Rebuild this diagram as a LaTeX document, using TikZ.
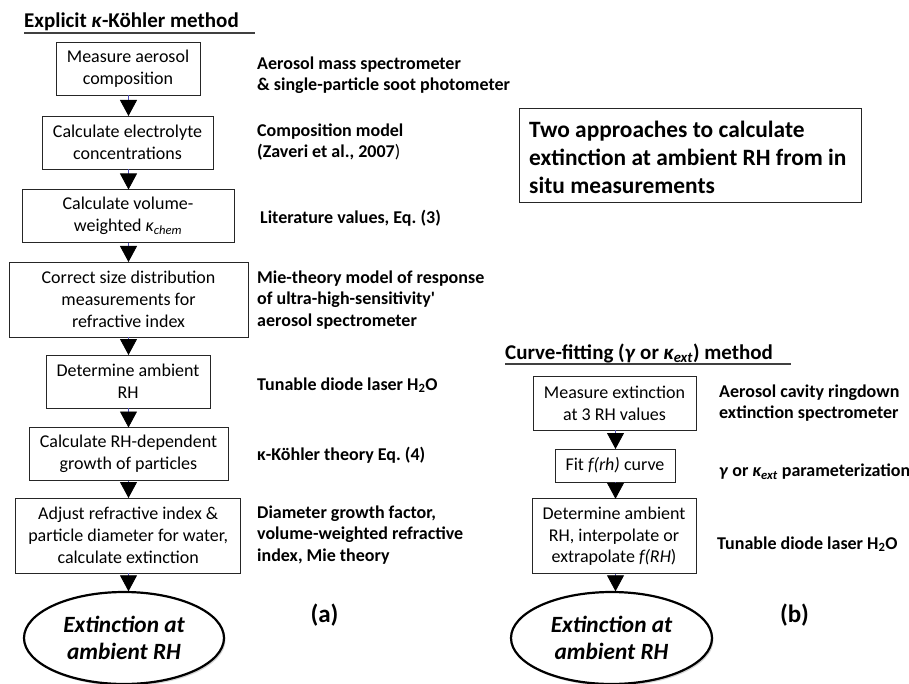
\documentclass[tikz,border=0pt]{standalone}
\usepackage{fontspec}
\setmainfont{Carlito}
\newfontfamily\rawfont{Carlito}
\usetikzlibrary{arrows.meta,shapes.geometric,shadows}
\tikzset{
  stepbox/.style={draw=black!85,line width=0.8pt,inner sep=0pt,align=center,
    font=\fontsize{18}{21.7}\selectfont},
  note/.style={anchor=west,inner sep=0pt,align=left,
    font=\fontsize{18}{21.5}\selectfont\bfseries},
  flow/.style={draw=blue!60!black!70,line width=0.8pt,
    -{Triangle[width=17pt,length=16pt,fill=black,color=black]},shorten >=-0.4pt},
  endell/.style={ellipse,draw=black,line width=2.2pt,fill=white,inner sep=0pt,
    align=center,font=\fontsize{23.3}{26.5}\selectfont\bfseries\itshape,
    drop shadow={shadow xshift=1.5pt,shadow yshift=-2pt,opacity=0.35}},
  heading/.style={anchor=west,inner sep=0pt,font=\fontsize{21}{24}\selectfont\bfseries},
  ulinestyle/.style={draw=black!75,line width=1.3pt},
  panel/.style={inner sep=0pt,font=\fontsize{25}{30}\selectfont\bfseries}
}
\begin{document}
\frenchspacing
\begin{tikzpicture}[x=1pt,y=-1pt]
\useasboundingbox (0,0) rectangle (909,684);
\coordinate (colA) at (128.5,0);
\coordinate (colB) at (615.5,0);
% ---- left column
\node[heading] (ta) at (24,22) {Explicit \textit{κ}-Köhler method};
\coordinate (ua1) at (24,33); \coordinate (ua2) at (255,33);
\draw[ulinestyle] (ua1) -- (ua2);
\node[stepbox,minimum width=144pt,minimum height=53pt] (a1) at (128,68.5) {Measure aerosol\\composition};
\node[stepbox,minimum width=171pt,minimum height=53pt] (a2) at (127.5,142.5) {Calculate electrolyte\\concentrations};
\node[stepbox,minimum width=212pt,minimum height=53pt] (a3) at (128,216) {Calculate volume-\\weighted \textit{κ\textsubscript{chem}}};
\node[stepbox,minimum width=239pt,minimum height=75pt] (a4) at (128.5,299.5) {Correct size distribution\\measurements for\\refractive index};
\node[stepbox,minimum width=164pt,minimum height=53pt] (a5) at (128,381.5) {Determine ambient\\RH};
\node[stepbox,minimum width=199pt,minimum height=53pt] (a6) at (128.5,454) {Calculate RH-dependent\\growth of particles};
\node[stepbox,minimum width=225pt,minimum height=75pt] (a7) at (128.2,535.5) {Adjust refractive index \&\\particle diameter for water,\\calculate extinction};
\node[endell,minimum width=200pt,minimum height=92pt] (ea) at (124,638) {Extinction at\\ambient RH};
\draw[flow] (a1.south -| colA) -- (a2.north -| colA);
\draw[flow] (a2.south -| colA) -- (a3.north -| colA);
\draw[flow] (a3.south -| colA) -- (a4.north -| colA);
\draw[flow] (a4.south -| colA) -- (a5.north -| colA);
\draw[flow] (a5.south -| colA) -- (a6.north -| colA);
\draw[flow] (a6.south -| colA) -- (a7.north -| colA);
\draw[flow] (a7.south -| colA) -- (ea.north -| colA);
\node[note] (n1) at (257,75) {Aerosol mass spectrometer\\\& single-particle soot photometer};
\node[note] (n2) at (257,142) {Composition model\\(Zaveri et al., 2007\textmd{)}};
\node[note] (n3) at (260,218) {Literature values, Eq. (3)};
\node[note] (n4) at (257,300) {Mie-theory model of response\\of ultra-high-sensitivity{\rawfont\bfseries '}\\aerosol spectrometer};
\node[note] (n5) at (257,385) {Tunable diode laser H\textsubscript{2}O};
\node[note] (n6) at (257,455) {κ-Köhler theory Eq. (4)};
\node[note] (n7) at (257,535) {Diameter growth factor,\\volume-weighted refractive\\index, Mie theory};
\node[panel] (pa) at (324.5,615) {(a)};
% ---- title box
\node[draw=black!85,line width=0.8pt,minimum width=342pt,minimum height=94pt,
  inner sep=0pt] (tb) at (690,155) {};
\node[anchor=west,inner sep=0pt,align=left,font=\fontsize{23.4}{28}\selectfont\bfseries]
  (tt) at (529,157) {Two approaches to calculate\\extinction at ambient RH from in\\situ measurements};
% ---- right column
\node[heading] (tbh) at (505,353) {Curve-fitting (\textit{γ} or \textit{κ\textsubscript{ext}}) method};
\coordinate (ub1) at (505,364); \coordinate (ub2) at (791,364);
\draw[ulinestyle] (ub1) -- (ub2);
\node[stepbox,minimum width=163pt,minimum height=54pt] (b1) at (614.5,403) {Measure extinction\\at 3 RH values};
\node[stepbox,minimum width=120pt,minimum height=33pt] (b2) at (615,465.5) {Fit \textit{f(rh)} curve};
\node[stepbox,minimum width=164pt,minimum height=75pt] (b3) at (614,536.3) {Determine ambient\\RH, interpolate or\\extrapolate \textit{f(RH}\/)};
\node[endell,minimum width=201pt,minimum height=92pt] (eb) at (611.5,638) {Extinction at\\ambient RH};
\draw[flow] (b1.south -| colB) -- (b2.north -| colB);
\draw[flow] (b2.south -| colB) -- (b3.north -| colB);
\draw[flow] (b3.south -| colB) -- (eb.north -| colB);
\node[note] (m1) at (719,403) {Aerosol cavity ringdown\\extinction spectrometer};
\node[note] (m2) at (719,472) {\textit{γ} or \textit{κ\textsubscript{ext}} parameterization};
\node[note] (m3) at (717,544) {Tunable diode laser H\textsubscript{2}O};
\node[panel] (pb) at (794.5,615) {(b)};
\end{tikzpicture}
\end{document}
